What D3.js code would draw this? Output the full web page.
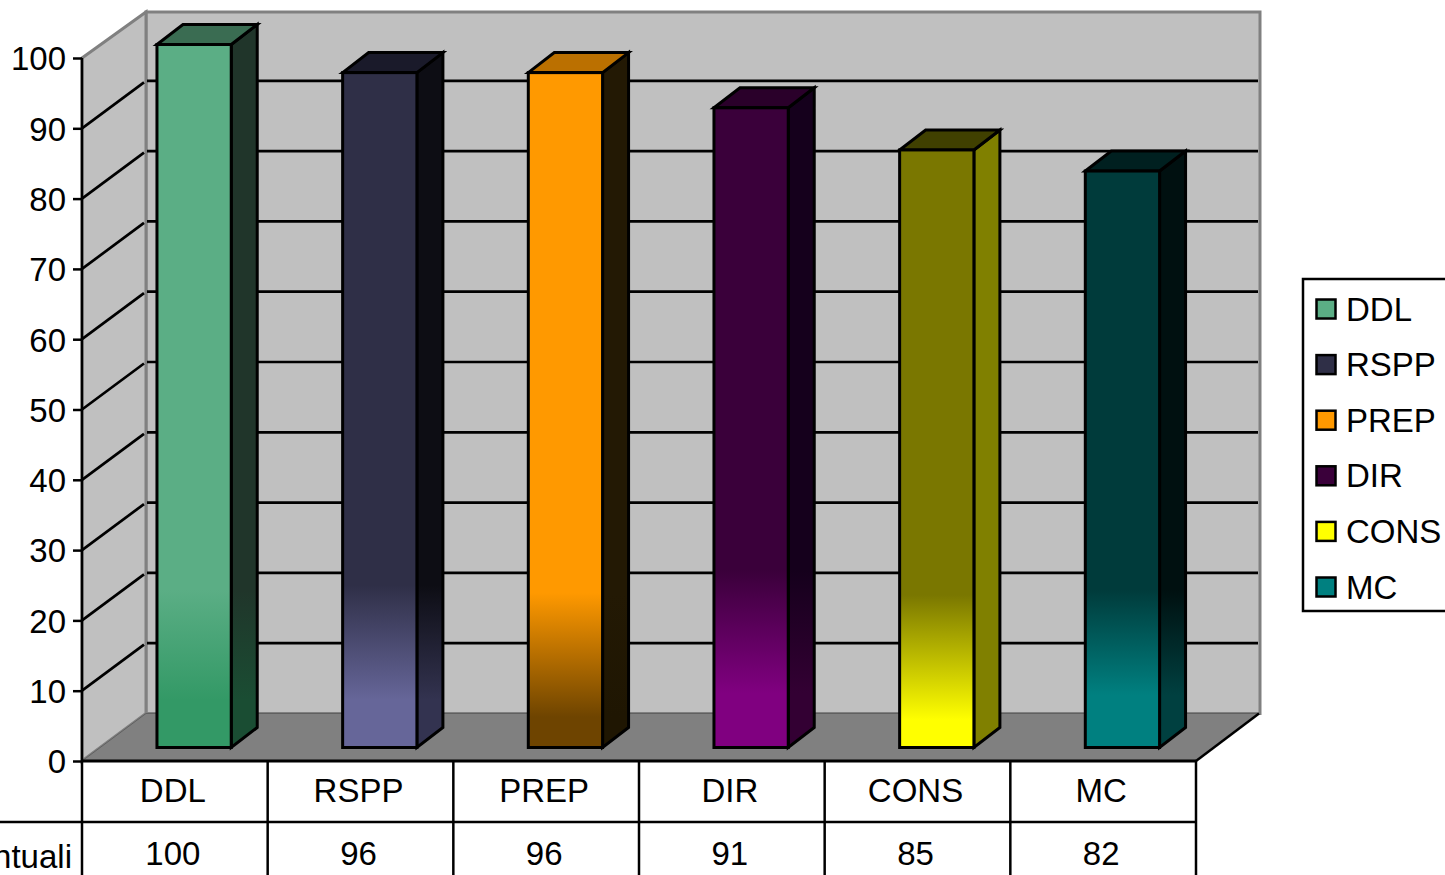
<!DOCTYPE html>
<html>
<head>
<meta charset="utf-8">
<script src="https://cdn.jsdelivr.net/npm/d3@7"></script>
<style>
html,body{margin:0;padding:0;background:#fff;overflow:hidden}
svg{display:block}
text{font-family:"Liberation Sans",Arial,sans-serif;font-size:33px;fill:#000;font-kerning:none}
</style>
</head>
<body>
<script>
// Chart content
const categories = ["DDL","RSPP","PREP","DIR","CONS","MC"];
const values = [100,96,96,91,85,82];
const rowLabel = "Puntuali";
const yTicks = [0,10,20,30,40,50,60,70,80,90,100];

// Bar shading: front face, side face, cap
const frontUpper = ["#5bae85","#2f2f47","#ff9900","#3a003a","#7a7700","#003b3b"];
const frontLower = ["#339966","#666699","#6e4400","#800080","#ffff00","#008080"];
const sideUpper  = ["#20352a","#0d0d14","#231904","#15001c","#808000","#001010"];
const sideLower  = ["#1a4d33","#333350","#1f1602","#330033","#808000","#004040"];
const capColor   = ["#3a6c52","#1a1a2a","#bb7000","#2a002a","#404000","#002020"];
const legendFill = ["#5bae85","#2f2f47","#ff9900","#3a003a","#ffff00","#008080"];
const blendStart = [590,585,593,570,595,590];
const blendEnd   = [700,700,717,693,720,695];

const W = 1445, H = 875;
const axisLeft = 82, axisRight = 1196, axisBase = 761, axisTop = 58;
const depthX = 64, depthY = 47.5;        // wall and floor recession
const wallTopInset = 1.5;                // the wall's top edge sits just under the last gridline slot
const barDepthX = 26, barDepthY = 20;    // bar recession
const barLift = 13.5;                    // bars stand this far behind the front edge

const svg = d3.select("body").append("svg").attr("width",W).attr("height",H);
const defs = svg.append("defs");

const x = d3.scaleBand().domain(categories).range([axisLeft,axisRight]);
const y = d3.scaleLinear().domain([0,100]).range([axisBase,axisTop]);
const barW = x.bandwidth()*0.4;
const barX = c => x(c) + x.bandwidth()*0.4 + 0.7;

const poly = pts => pts.map(p=>p.join(",")).join(" ");
const wallTop = y(100)-depthY+wallTopInset;

// Back wall
svg.append("polygon")
  .attr("points",poly([[axisLeft+depthX,wallTop],[axisRight+depthX,wallTop],[axisRight+depthX,y(0)-depthY],[axisLeft+depthX,y(0)-depthY]]))
  .attr("fill","#c0c0c0").attr("stroke","#808080").attr("stroke-width",3);

// Side wall
svg.append("polygon")
  .attr("points",poly([[axisLeft,y(100)],[axisLeft+depthX,wallTop],[axisLeft+depthX,y(0)-depthY],[axisLeft,y(0)]]))
  .attr("fill","#c0c0c0").attr("stroke","#808080").attr("stroke-width",3);

// Floor
svg.append("polygon")
  .attr("points",poly([[axisLeft,y(0)],[axisLeft+depthX,y(0)-depthY],[axisRight+depthX-1,y(0)-depthY],[axisRight,y(0)]]))
  .attr("fill","#808080").attr("stroke","#606060").attr("stroke-width",1);
svg.append("line")
  .attr("x1",axisRight).attr("y1",y(0)).attr("x2",axisRight+depthX-1).attr("y2",y(0)-depthY)
  .attr("stroke","#000").attr("stroke-width",2.5);

// Gridlines on both walls
const grid = yTicks.filter(t=>t>0 && t<100);
svg.append("g").selectAll("line").data(grid).join("line")
  .attr("x1",axisLeft+depthX+1).attr("x2",axisRight+depthX-2)
  .attr("y1",d=>y(d)-depthY).attr("y2",d=>y(d)-depthY)
  .attr("stroke","#000").attr("stroke-width",2.7);
svg.append("g").selectAll("line").data(grid).join("line")
  .attr("x1",axisLeft).attr("x2",axisLeft+depthX-2)
  .attr("y1",d=>y(d)).attr("y2",d=>y(d)-depthY+1.5)
  .attr("stroke","#000").attr("stroke-width",2.7);

// Vertical shading ramps, shared in page coordinates
function ramp(id,top,bottom,i){
  const g = defs.append("linearGradient").attr("id",id)
    .attr("gradientUnits","userSpaceOnUse")
    .attr("x1",0).attr("x2",0).attr("y1",blendStart[i]).attr("y2",blendEnd[i]);
  g.append("stop").attr("offset",0).attr("stop-color",top);
  g.append("stop").attr("offset",1).attr("stop-color",bottom);
}
categories.forEach((c,i)=>{
  ramp("front"+i,frontUpper[i],frontLower[i],i);
  ramp("side"+i,sideUpper[i],sideLower[i],i);
});

// Bars
const bars = svg.append("g").selectAll("g").data(categories).join("g")
  .attr("stroke","#000").attr("stroke-width",3).attr("stroke-linejoin","miter");
bars.each(function(c,i){
  const g = d3.select(this);
  const l = barX(c), r = l+barW, t = y(values[i])-barLift, b = y(0)-barLift;
  g.append("polygon")
    .attr("points",poly([[r,t],[r+barDepthX,t-barDepthY],[r+barDepthX,b-barDepthY],[r,b]]))
    .attr("fill",`url(#side${i})`);
  g.append("polygon")
    .attr("points",poly([[l,t],[l+barDepthX,t-barDepthY],[r+barDepthX,t-barDepthY],[r,t]]))
    .attr("fill",capColor[i]);
  g.append("rect").attr("x",l).attr("y",t).attr("width",barW).attr("height",b-t)
    .attr("fill",`url(#front${i})`);
});

// Value axis
const yAxis = d3.axisLeft(y).tickValues(yTicks).tickSize(9).tickPadding(7).tickFormat(d3.format("d"));
const yG = svg.append("g").attr("transform",`translate(${axisLeft},0)`).call(yAxis);
yG.select(".domain").attr("stroke","#000").attr("stroke-width",2.5).attr("d",`M0,${y(100)}V${H}`);
yG.selectAll(".tick line").attr("stroke","#000").attr("stroke-width",2.5);
yG.selectAll(".tick text").attr("font-family",null).attr("font-size",null).attr("dy","0.36em");
yG.attr("font-size",null).attr("font-family",null);

// Data table beneath the plot
const table = svg.append("g").attr("stroke","#000").attr("stroke-width",2.5);
table.append("line").attr("x1",axisLeft).attr("x2",axisRight).attr("y1",y(0)).attr("y2",y(0)).attr("stroke-width",3);
table.append("line").attr("x1",0).attr("x2",axisRight).attr("y1",822).attr("y2",822);
table.selectAll("line.col").data(categories).join("line").attr("class","col")
  .attr("x1",d=>x(d)+x.bandwidth()).attr("x2",d=>x(d)+x.bandwidth())
  .attr("y1",y(0)).attr("y2",H);

const cellX = c => x(c)+x.bandwidth()/2-2;
svg.append("g").selectAll("text").data(categories).join("text")
  .attr("x",cellX).attr("y",802).attr("text-anchor","middle").text(d=>d);
svg.append("g").selectAll("text").data(values).join("text")
  .attr("x",(d,i)=>cellX(categories[i])).attr("y",865).attr("text-anchor","middle").text(d=>d);
svg.append("text").attr("x",72).attr("y",868).attr("text-anchor","end").text(rowLabel);

// Legend
svg.append("rect").attr("x",1303).attr("y",279).attr("width",170).attr("height",332)
  .attr("fill","#fff").attr("stroke","#000").attr("stroke-width",2.5);
const legendY = d3.scalePoint().domain(categories).range([309,587]);
const items = svg.append("g").selectAll("g").data(categories).join("g")
  .attr("transform",d=>`translate(0,${legendY(d)})`);
items.append("rect").attr("x",1316.5).attr("y",-9.5).attr("width",19).attr("height",19)
  .attr("fill",(d,i)=>legendFill[i]).attr("stroke","#000").attr("stroke-width",2.5);
items.append("text").attr("x",1346).attr("y",11.5).text(d=>d);
</script>
</body>
</html>
